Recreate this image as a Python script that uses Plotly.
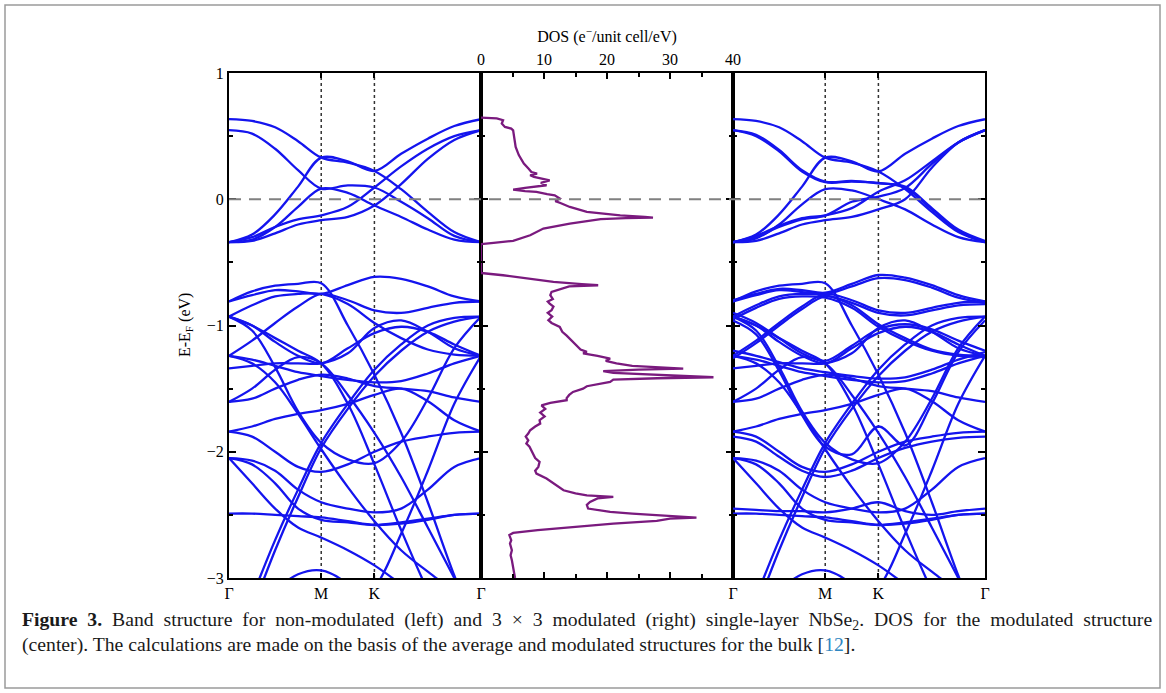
import plotly.graph_objects as go

# ---------------- data ----------------
k_nodes = [0, 0.0915, 0.183, 0.274, 0.366, 0.4715, 0.577, 0.683, 0.789, 0.894, 1.0]
k_ticks = [0, 0.366, 0.577, 1.0]
k_labels = ["Γ", "M", "K", "Γ"]

left_conduction = [
    [0.634, 0.62, 0.57, 0.46, 0.33, 0.29, 0.224, 0.08, -0.10, -0.26, -0.34],
    [-0.34, -0.28, -0.12, 0.10, 0.33, 0.30, 0.224, 0.36, 0.48, 0.58, 0.634],
    [0.547, 0.52, 0.40, 0.23, 0.085, 0.11, 0.093, -0.02, -0.15, -0.29, -0.34],
    [-0.34, -0.32, -0.22, -0.06, 0.085, 0.05, -0.05, -0.14, -0.24, -0.32, -0.34],
    [-0.34, -0.30, -0.22, -0.16, -0.127, -0.06, 0.093, 0.26, 0.40, 0.50, 0.547],
    [-0.34, -0.33, -0.27, -0.20, -0.166, -0.14, -0.05, 0.12, 0.32, 0.47, 0.547],
]

left_valence = [
    [-0.81, -0.76, -0.72, -0.73, -0.75, -0.68, -0.615, -0.63, -0.69, -0.77, -0.81],
    [-0.81, -0.73, -0.685, -0.67, -0.665, -1.0, -1.39, -1.85, -2.4, -2.98, -3.5],
    [-0.93, -0.84, -0.77, -0.75, -0.75, -0.83, -0.98, -1.10, -1.19, -1.23, -1.24],
    [-0.93, -1.00, -1.13, -1.24, -1.30, -1.18, -1.06, -1.01, -1.05, -1.15, -1.24],
    [-0.93, -1.04, -1.33, -1.68, -1.93, -2.06, -2.09, -1.92, -1.58, -1.18, -0.93],
    [-0.93, -1.00, -1.10, -1.20, -1.30, -1.62, -2.10, -2.62, -3.1, -3.5, -3.6],
    [-1.24, -1.12, -0.98, -0.85, -0.75, -0.80, -0.88, -0.90, -0.86, -0.82, -0.81],
    [-1.24, -1.30, -1.45, -1.70, -1.98, -2.28, -2.55, -2.78, -2.95, -3.1, -3.2],
    [-1.24, -1.27, -1.32, -1.37, -1.40, -1.43, -1.45, -1.44, -1.38, -1.30, -1.24],
    [-1.34, -1.32, -1.30, -1.30, -1.30, -1.22, -1.02, -0.96, -1.05, -1.18, -1.24],
    [-1.605, -1.58, -1.50, -1.43, -1.39, -1.42, -1.48, -1.50, -1.52, -1.57, -1.605],
    [-1.605, -1.50, -1.35, -1.25, -1.30, -1.55, -1.85, -2.20, -2.60, -3.0, -3.4],
    [-1.84, -1.80, -1.74, -1.70, -1.67, -1.62, -1.55, -1.50, -1.60, -1.75, -1.84],
    [-1.84, -1.88, -2.00, -2.12, -2.16, -2.10, -2.00, -1.92, -1.88, -1.85, -1.84],
    [-2.05, -2.07, -2.15, -2.30, -2.40, -2.45, -2.48, -2.45, -2.30, -2.12, -2.05],
    [-2.05, -2.10, -2.25, -2.45, -2.54, -2.56, -2.58, -2.56, -2.53, -2.50, -2.49],
    [-2.49, -2.49, -2.50, -2.51, -2.52, -2.55, -2.58, -2.57, -2.54, -2.50, -2.49],
    [-3.6, -3.15, -2.70, -2.30, -1.93, -1.62, -1.35, -1.15, -1.00, -0.94, -0.93],
    [-3.7, -3.25, -2.78, -2.36, -1.97, -1.66, -1.40, -1.20, -1.05, -0.97, -0.93],
    [-2.05, -2.25, -2.45, -2.60, -2.68, -2.78, -2.90, -3.05, -3.2, -3.3, -3.4],
    [-3.5, -3.3, -3.1, -2.97, -2.94, -3.05, -3.3, -3.5, -3.5, -3.5, -3.5],
    [-3.6, -3.6, -3.6, -3.5, -3.4, -3.25, -3.08, -2.65, -2.15, -1.62, -1.24],
]

right_conduction = [
    [0.634, 0.62, 0.57, 0.46, 0.33, 0.29, 0.22, 0.08, -0.10, -0.26, -0.34],
    [-0.34, -0.28, -0.12, 0.10, 0.33, 0.30, 0.22, 0.36, 0.48, 0.58, 0.634],
    [0.547, 0.50, 0.38, 0.22, 0.135, 0.14, 0.13, 0.09, -0.08, -0.25, -0.34],
    [0.547, 0.51, 0.39, 0.23, 0.14, 0.145, 0.125, 0.10, -0.07, -0.24, -0.33],
    [-0.34, -0.31, -0.20, -0.04, 0.08, 0.07, 0.00, -0.08, -0.20, -0.30, -0.34],
    [-0.34, -0.29, -0.21, -0.15, -0.127, -0.07, 0.06, 0.15, 0.30, 0.45, 0.547],
    [-0.34, -0.30, -0.22, -0.16, -0.13, -0.02, 0.02, 0.09, 0.28, 0.45, 0.547],
    [-0.34, -0.33, -0.27, -0.20, -0.166, -0.14, -0.08, 0.00, 0.25, 0.45, 0.547],
]

right_valence = [
    [-0.80, -0.75, -0.71, -0.72, -0.74, -0.67, -0.60, -0.62, -0.68, -0.76, -0.81],
    [-0.81, -0.76, -0.72, -0.735, -0.75, -0.69, -0.625, -0.64, -0.70, -0.78, -0.82],
    [-0.81, -0.73, -0.685, -0.67, -0.665, -1.0, -1.39, -1.85, -2.4, -2.98, -3.5],
    [-0.93, -0.84, -0.77, -0.75, -0.76, -0.84, -0.99, -1.10, -1.19, -1.23, -1.24],
    [-0.95, -0.86, -0.79, -0.77, -0.78, -0.86, -1.01, -1.12, -1.20, -1.24, -1.25],
    [-0.93, -1.00, -1.13, -1.24, -1.30, -1.18, -1.06, -1.01, -1.05, -1.15, -1.24],
    [-0.90, -0.98, -1.10, -1.22, -1.28, -1.16, -1.03, -0.99, -1.03, -1.12, -1.20],
    [-0.93, -1.04, -1.33, -1.68, -1.93, -2.06, -2.09, -1.92, -1.58, -1.18, -0.93],
    [-0.96, -1.07, -1.36, -1.71, -1.96, -2.02, -1.80, -1.95, -1.62, -1.21, -0.96],
    [-0.93, -1.00, -1.10, -1.20, -1.30, -1.62, -2.10, -2.62, -3.1, -3.5, -3.6],
    [-1.24, -1.12, -0.98, -0.85, -0.75, -0.80, -0.88, -0.90, -0.86, -0.82, -0.81],
    [-1.26, -1.14, -1.00, -0.87, -0.77, -0.82, -0.90, -0.92, -0.88, -0.84, -0.83],
    [-1.24, -1.30, -1.45, -1.70, -1.98, -2.28, -2.55, -2.78, -2.95, -3.1, -3.2],
    [-1.24, -1.27, -1.32, -1.37, -1.40, -1.43, -1.45, -1.44, -1.38, -1.30, -1.24],
    [-1.20, -1.24, -1.29, -1.34, -1.37, -1.40, -1.42, -1.41, -1.35, -1.27, -1.21],
    [-1.34, -1.32, -1.30, -1.30, -1.30, -1.22, -1.02, -0.96, -1.05, -1.18, -1.24],
    [-1.605, -1.58, -1.50, -1.43, -1.39, -1.42, -1.48, -1.50, -1.52, -1.57, -1.605],
    [-1.605, -1.50, -1.35, -1.25, -1.30, -1.55, -1.85, -2.20, -2.60, -3.0, -3.4],
    [-1.84, -1.80, -1.74, -1.70, -1.67, -1.62, -1.55, -1.50, -1.60, -1.75, -1.84],
    [-1.84, -1.88, -2.00, -2.12, -2.16, -2.10, -2.00, -1.92, -1.88, -1.85, -1.84],
    [-1.88, -1.92, -2.04, -2.15, -2.20, -2.15, -2.05, -1.97, -1.92, -1.89, -1.88],
    [-2.05, -2.07, -2.15, -2.30, -2.40, -2.45, -2.48, -2.45, -2.30, -2.12, -2.05],
    [-2.05, -2.10, -2.25, -2.45, -2.54, -2.56, -2.58, -2.56, -2.53, -2.50, -2.49],
    [-2.49, -2.49, -2.50, -2.51, -2.52, -2.55, -2.58, -2.57, -2.54, -2.50, -2.49],
    [-2.45, -2.46, -2.47, -2.47, -2.48, -2.45, -2.40, -2.47, -2.50, -2.47, -2.45],
    [-3.6, -3.15, -2.70, -2.30, -1.93, -1.62, -1.35, -1.15, -1.00, -0.94, -0.93],
    [-3.7, -3.25, -2.78, -2.36, -1.97, -1.66, -1.40, -1.20, -1.05, -0.97, -0.93],
    [-2.05, -2.25, -2.45, -2.60, -2.68, -2.78, -2.90, -3.05, -3.2, -3.3, -3.4],
    [-3.5, -3.3, -3.1, -2.97, -2.94, -3.05, -3.3, -3.5, -3.5, -3.5, -3.5],
    [-3.6, -3.6, -3.6, -3.5, -3.4, -3.25, -3.08, -2.65, -2.15, -1.62, -1.24],
]

dos_energy = [0.647, 0.64, 0.626, 0.60, 0.573, 0.56, 0.546, 0.48, 0.414, 0.35, 0.282, 0.24,
              0.216, 0.203, 0.19, 0.177, 0.16, 0.150, 0.13, 0.111, 0.09, 0.076, 0.065, 0.058,
              0.04, 0.031, 0.006, -0.015, -0.03, -0.061, -0.10, -0.127, -0.140, -0.145, -0.150,
              -0.158, -0.193, -0.232, -0.285, -0.33, -0.345, -0.356, -0.45, -0.584, -0.602,
              -0.655, -0.672, -0.681, -0.69, -0.734, -0.76, -0.79, -0.81, -0.827, -0.85, -0.879,
              -0.90, -0.93, -0.958, -0.98, -1.011, -1.05, -1.08, -1.104, -1.15, -1.19, -1.209,
              -1.22, -1.24, -1.262, -1.28, -1.30, -1.32, -1.335, -1.341, -1.35, -1.362, -1.376,
              -1.39, -1.405, -1.41, -1.418, -1.428, -1.447, -1.465, -1.481, -1.50, -1.526, -1.55,
              -1.575, -1.592, -1.612, -1.632, -1.66, -1.69, -1.72, -1.75, -1.777, -1.80, -1.83,
              -1.856, -1.88, -1.91, -1.935, -1.96, -1.99, -2.014, -2.05, -2.08, -2.12, -2.15,
              -2.173, -2.212, -2.26, -2.305, -2.33, -2.345, -2.358, -2.37, -2.398, -2.42, -2.45,
              -2.477, -2.49, -2.503, -2.512, -2.522, -2.53, -2.548, -2.57, -2.596, -2.62, -2.643,
              -2.66, -2.70, -2.727, -2.78, -2.82, -2.86, -2.92, -2.99, -3.0]
dos_values = [0, 2.5, 3.5, 3.3, 3.8, 4.8, 5.1, 5.3, 5.5, 6.0, 6.8, 7.6,
              8.0, 8.9, 7.8, 8.4, 10.0, 10.9, 9.5, 10.4, 7.0, 5.1, 7.0, 8.8,
              10.5, 11.7, 12.5, 11.8, 12.6, 14.1, 16.8, 22.1, 26.0, 27.3, 23.0,
              19.0, 14.1, 9.9, 7.8, 5.1, 2.0, 0, 0, 0, 3.5,
              11.5, 16.0, 18.6, 14.0, 11.2, 11.0, 11.4, 10.6, 10.9, 11.5, 11.2,
              10.6, 11.3, 10.7, 11.2, 12.5, 12.9, 13.6, 14.1, 15.0, 15.8, 16.8,
              16.2, 18.5, 20.5, 19.8, 21.5, 24.0, 30.0, 32.1, 25.0, 19.4, 21.0,
              28.0, 34.5, 36.9, 28.0, 21.0, 20.5, 18.5, 16.8, 16.2, 14.6, 14.0,
              13.6, 13.6, 11.0, 9.6, 10.2, 9.4, 10.1, 9.3, 9.4, 8.6, 7.8,
              7.5, 7.1, 7.5, 7.2, 7.7, 8.0, 8.3, 8.6, 9.3, 9.1, 8.6,
              8.8, 10.4, 11.8, 13.1, 15.0, 16.8, 21.0, 18.5, 17.3, 16.8, 17.0,
              20.5, 24.0, 28.4, 30.5, 34.2, 30.0, 27.9, 21.0, 14.1, 9.0, 5.1,
              4.5, 4.8, 4.6, 4.9, 4.7, 4.9, 5.1, 5.4, 5.4]

dos_ticks = [0, 10, 20, 30, 40]
energy_ticks = [-3, -2, -1, 0, 1]
energy_labels = ["−3", "−2", "−1", "0", "1"]

caption_line1 = ("<b>Figure 3.</b> Band structure for non-modulated (left) and 3 × 3 modulated "
                 "(right) single-layer NbSe<sub>2</sub>. DOS for the modulated structure")
caption_line2 = ("(center). The calculations are made on the basis of the average and modulated "
                 "structures for the bulk [<span style='color:#2E86C1'>12</span>].")

# ---------------- style ----------------
BLUE = "#1414EE"
PURPLE = "#7A1A7E"
FONT = "Liberation Serif"
W, H = 1166, 693
px = lambda x: x / W
py = lambda y: (H - y) / H
dom_l = [px(229), px(481)]
dom_c = [px(481), px(733)]
dom_r = [px(733), px(985)]
dom_y = [py(578), py(73)]

fig = go.Figure()

for band in left_conduction + left_valence:
    fig.add_trace(go.Scatter(x=k_nodes, y=band, mode="lines", xaxis="x", yaxis="y",
                             line=dict(color=BLUE, width=2.3, shape="spline", smoothing=1.0),
                             hoverinfo="skip", showlegend=False))
for band in right_conduction + right_valence:
    fig.add_trace(go.Scatter(x=k_nodes, y=band, mode="lines", xaxis="x3", yaxis="y3",
                             line=dict(color=BLUE, width=2.3, shape="spline", smoothing=1.0),
                             hoverinfo="skip", showlegend=False))
fig.add_trace(go.Scatter(x=dos_values, y=dos_energy, mode="lines", xaxis="x2", yaxis="y2",
                         line=dict(color=PURPLE, width=2.3), hoverinfo="skip", showlegend=False))

tick_font = dict(family=FONT, size=16, color="black")
common_x_band = dict(range=[0, 1], tickvals=k_ticks, ticktext=k_labels, ticks="inside",
                     ticklen=5, tickwidth=1.5, tickcolor="black", showline=True, linewidth=2,
                     linecolor="black", mirror="ticks", showgrid=False, zeroline=False,
                     tickfont=tick_font, fixedrange=True, automargin=False)
common_y = dict(range=[-3, 1], tickvals=energy_ticks, ticks="inside", ticklen=7, tickwidth=1.5,
                tickcolor="black", showline=True, linewidth=2, linecolor="black", mirror="ticks",
                showgrid=False, zeroline=False, domain=dom_y, automargin=False,
                minor=dict(dtick=0.5, ticklen=4, tickwidth=1.5, tickcolor="black", ticks="inside"))

fig.update_layout(
    width=W, height=H, margin=dict(l=0, r=0, t=0, b=0, pad=0, autoexpand=False),
    paper_bgcolor="white", plot_bgcolor="white", showlegend=False,
    xaxis=dict(domain=dom_l, anchor="y", **common_x_band),
    xaxis3=dict(domain=dom_r, anchor="y3", **common_x_band),
    xaxis2=dict(domain=dom_c, anchor="y2", side="top", range=[0, 40], tickvals=dos_ticks,
                ticks="inside", ticklen=6, tickwidth=1.5, tickcolor="black",
                showline=True, linewidth=2, linecolor="black", mirror="ticks",
                showgrid=False, zeroline=False, automargin=False,
                minor=dict(dtick=5, ticklen=4, tickwidth=1.5, tickcolor="black", ticks="inside"),
                tickfont=tick_font,
                title=dict(text="DOS (e<sup>−</sup>/unit cell/eV)",
                           font=dict(family=FONT, size=16, color="black"), standoff=4)),
    yaxis=dict(anchor="x", ticktext=energy_labels, showticklabels=True,
               tickfont=tick_font, **common_y),
    yaxis2=dict(anchor="x2", showticklabels=False, **common_y),
    yaxis3=dict(anchor="x3", showticklabels=False, **common_y),
)

shapes = []
for xr in ["x", "x3"]:
    for kv in k_ticks[1:3]:
        shapes.append(dict(type="line", xref=xr, yref="y domain", x0=kv, x1=kv, y0=0, y1=1,
                           line=dict(color="#333333", width=1.5, dash="dot"), layer="below"))
shapes.append(dict(type="line", xref="paper", yref="y", x0=dom_l[0], x1=dom_r[1], y0=0, y1=0,
                   line=dict(color="#808080", width=2.2, dash="12px,8px")))
shapes.append(dict(type="rect", xref="paper", yref="paper", x0=px(5), x1=px(1160),
                   y0=py(688), y1=py(5), line=dict(color="#9a9a9a", width=1.5)))
fig.update_layout(shapes=shapes)

cap_font = dict(family=FONT, size=19.7, color="#1a1a1a")
annotations = [
    dict(text="E-E<sub>F</sub> (eV)", xref="paper", yref="paper", x=px(186), y=py(325),
         textangle=-90, showarrow=False, xanchor="center", yanchor="middle",
         font=dict(family=FONT, size=16, color="black")),
    # first caption line is justified across the full width in the reference
    dict(text="<span style='word-spacing:5px'>" + caption_line1 + "</span>",
         xref="paper", yref="paper", x=px(20), y=py(620),
         xanchor="left", yanchor="middle", showarrow=False, font=cap_font),
    dict(text=caption_line2, xref="paper", yref="paper", x=px(20), y=py(644),
         xanchor="left", yanchor="middle", showarrow=False, font=cap_font),
]
fig.update_layout(annotations=annotations)

fig.write_html("out.html")
